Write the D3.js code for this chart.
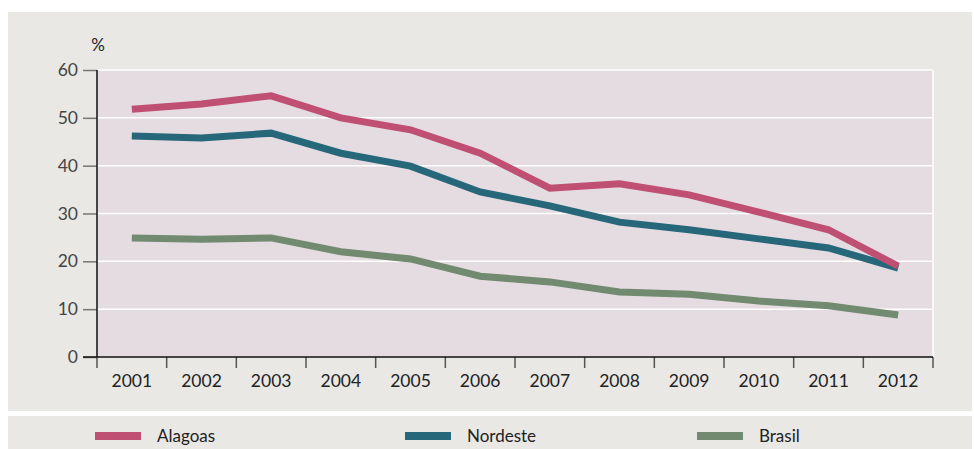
<!DOCTYPE html>
<html>
<head>
<meta charset="utf-8">
<script src="https://cdn.jsdelivr.net/npm/d3@7"></script>
<style>
  body { margin: 0; background: #fff; }
  svg { display: block; font-family: "Lato", "Open Sans", sans-serif; }
</style>
</head>
<body>
<div id="chart"></div>
<script>
var years = ['2001','2002','2003','2004','2005','2006','2007','2008','2009','2010','2011','2012'];
var alagoas  = [51.8, 52.9, 54.6, 50.0, 47.5, 42.6, 35.3, 36.2, 33.9, 30.3, 26.6, 19.0];
var nordeste = [46.2, 45.8, 46.8, 42.6, 39.9, 34.5, 31.6, 28.2, 26.6, 24.7, 22.8, 18.6];
var brasil   = [24.9, 24.6, 24.9, 22.0, 20.5, 16.9, 15.7, 13.6, 13.1, 11.7, 10.7, 8.8];
var yTicks = [0, 10, 20, 30, 40, 50, 60];

var series = [
  { name: 'Alagoas', values: alagoas, color: '#bf4f73' },
  { name: 'Nordeste', values: nordeste, color: '#26677a' },
  { name: 'Brasil', values: brasil, color: '#718a70' }
];

var W = 974, H = 449;
var svg = d3.select('#chart').append('svg')
  .attr('width', W).attr('height', H);

// panels
svg.append('rect').attr('x', 8).attr('y', 12).attr('width', 964).attr('height', 399).attr('fill', '#e9e8e5');
svg.append('rect').attr('x', 8).attr('y', 416).attr('width', 964).attr('height', 33).attr('fill', '#e9e8e5');

var pLeft = 97, pRight = 933, pTop = 70, pBottom = 357;

var x = d3.scaleBand().domain(years).range([pLeft, pRight]);
var y = d3.scaleLinear().domain([0, 60]).range([pBottom, pTop]);

svg.append('rect').attr('x', pLeft).attr('y', pTop)
  .attr('width', pRight - pLeft).attr('height', pBottom - pTop)
  .attr('fill', '#e5dce1');

// grid
svg.append('g').selectAll('line').data(yTicks.filter(function (d) { return d > 0; }))
  .enter().append('line')
  .attr('x1', pLeft).attr('x2', pRight)
  .attr('y1', function (d) { return y(d); })
  .attr('y2', function (d) { return y(d); })
  .attr('stroke', '#fff').attr('stroke-width', 1.5);
svg.append('line').attr('x1', pRight).attr('x2', pRight).attr('y1', pTop).attr('y2', pBottom)
  .attr('stroke', '#fff').attr('stroke-width', 1.5);

// y axis
var yAxis = svg.append('g').attr('transform', 'translate(' + pLeft + ',0)')
  .call(d3.axisLeft(y).tickValues(yTicks).tickSize(14).tickPadding(5));
yAxis.select('.domain').remove();
yAxis.selectAll('.tick line').attr('stroke', '#777').attr('stroke-width', 1.5);
yAxis.selectAll('.tick text').attr('font-size', 17.5).attr('fill', '#444')
  .attr('font-family', '"Lato", sans-serif');
svg.append('line').attr('x1', pLeft).attr('x2', pLeft).attr('y1', pTop).attr('y2', pBottom)
  .attr('stroke', '#111').attr('stroke-width', 1.5);

svg.append('text').attr('x', 98).attr('y', 51).attr('text-anchor', 'middle')
  .attr('font-size', 17).attr('fill', '#222').text('%');

// x axis
var bounds = years.map(function (d) { return x(d); }).concat([pRight]);
svg.append('g').selectAll('line').data(bounds).enter().append('line')
  .attr('x1', function (d) { return d; }).attr('x2', function (d) { return d; })
  .attr('y1', pBottom).attr('y2', pBottom + 11)
  .attr('stroke', '#555').attr('stroke-width', 1.5);
svg.append('line').attr('x1', 83).attr('x2', pRight).attr('y1', pBottom).attr('y2', pBottom)
  .attr('stroke', '#111').attr('stroke-width', 1.5);
svg.append('g').selectAll('text').data(years).enter().append('text')
  .attr('x', function (d) { return x(d) + x.bandwidth() / 2; })
  .attr('y', 387).attr('text-anchor', 'middle')
  .attr('font-size', 17.5).attr('fill', '#222')
  .text(function (d) { return d; });

// lines
var line = d3.line()
  .x(function (d, i) { return x(years[i]) + x.bandwidth() / 2; })
  .y(function (d) { return y(d); });

svg.append('g').selectAll('path').data(series.slice().reverse()).enter().append('path')
  .attr('d', function (d) { return line(d.values); })
  .attr('fill', 'none')
  .attr('stroke', function (d) { return d.color; })
  .attr('stroke-width', 7)
  .attr('stroke-linejoin', 'miter');

// legend
var legX = [95, 405, 697];
var leg = svg.append('g').selectAll('g').data(series).enter().append('g')
  .attr('transform', function (d, i) { return 'translate(' + legX[i] + ',436)'; });
leg.append('rect').attr('x', 0).attr('y', -4).attr('width', 46).attr('height', 8)
  .attr('fill', function (d) { return d.color; });
leg.append('text').attr('x', 62).attr('y', 6).attr('font-size', 17).attr('fill', '#222')
  .text(function (d) { return d.name; });
</script>
</body>
</html>
